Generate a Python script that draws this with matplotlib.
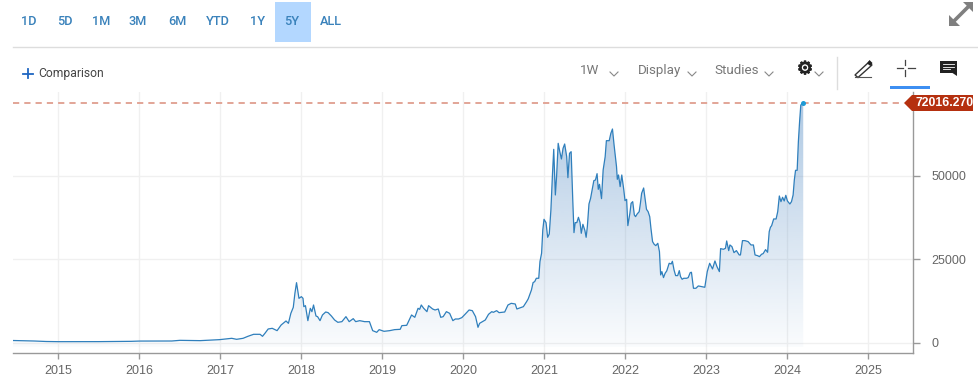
import numpy as np
import matplotlib
matplotlib.use("Agg")
import matplotlib.pyplot as plt
import matplotlib.patheffects as pe
from matplotlib.patches import Polygon, Rectangle, PathPatch
from matplotlib.path import Path
from matplotlib.colors import LinearSegmentedColormap, to_rgba

# ---------- data ----------
dates = [2014.44,2014.7,2014.85,2015.0,2015.5,2015.9,2016.0,2016.4,2016.5,2016.68,
 2016.75,2016.91,2016.99,2017.14,2017.20,2017.28,2017.34,2017.41,2017.49,2017.52,2017.55,2017.59,2017.64,2017.70,2017.75,2017.81,2017.84,2017.87,2017.90,2017.92,2017.94,2017.97,2018.0,2018.02,2018.03,2018.05,2018.08,2018.11,2018.13,2018.15,2018.18,2018.20,2018.23,2018.26,2018.30,2018.33,2018.37,2018.41,2018.45,2018.50,2018.55,2018.59,2018.64,2018.67,2018.72,2018.78,2018.84,2018.88,2018.93,2018.96,2019.02,2019.09,2019.15,2019.22,2019.24,2019.30,2019.36,2019.40,2019.44,2019.46,2019.48,2019.51,2019.55,2019.57,2019.62,2019.65,2019.69,2019.72,2019.75,2019.79,2019.83,2019.87,2019.90,2019.94,2019.98,2020.02,2020.07,2020.11,2020.15,2020.18,2020.20,2020.27,2020.31,2020.35,2020.37,2020.41,2020.44,2020.51,2020.55,2020.59,2020.64,2020.66,2020.74,2020.78,
 2020.80,2020.84,2020.86,2020.88,2020.90,2020.93,2020.945,2020.965,2020.98,2020.995,2021.02,2021.04,2021.06,2021.08,2021.10,2021.115,2021.135,2021.15,2021.17,2021.19,2021.21,2021.23,2021.25,2021.275,2021.29,2021.31,2021.33,2021.35,2021.365,2021.38,2021.40,2021.42,2021.44,2021.455,2021.475,2021.50,2021.515,2021.53,2021.55,2021.57,2021.61,2021.63,2021.65,2021.665,2021.68,2021.705,2021.725,2021.75,2021.765,2021.80,2021.82,2021.84,2021.86,2021.89,2021.90,2021.915,2021.935,2021.955,2021.98,2021.995,2022.015,2022.03,2022.055,2022.07,2022.09,2022.11,2022.125,2022.145,2022.17,2022.185,2022.20,2022.225,2022.245,2022.26,2022.28,2022.30,2022.315,2022.335,2022.355,2022.375,2022.40,2022.42,2022.435,2022.45,2022.47,2022.49,2022.51,2022.54,2022.565,2022.58,2022.60,2022.62,2022.645,2022.665,2022.68,2022.70,2022.72,2022.755,2022.775,2022.80,2022.815,2022.84,2022.87,2022.90,
 2022.94,2022.98,2023.01,2023.04,2023.075,2023.105,2023.13,2023.16,2023.175,2023.21,2023.235,2023.25,2023.275,2023.29,2023.315,2023.34,2023.37,2023.405,2023.42,2023.445,2023.475,2023.515,2023.55,2023.58,2023.60,2023.63,2023.655,2023.68,2023.70,2023.73,2023.755,2023.775,2023.79,2023.805,2023.83,2023.86,2023.88,2023.90,2023.92,2023.94,2023.96,2023.98,2024.00,2024.03,2024.05,2024.07,2024.085,2024.10,2024.12,2024.135,2024.15,2024.165,2024.195]
prices = [600,450,300,250,260,350,430,450,650,600,
 557,757,857,1257,957,1257,1857,2457,2457,1857,2757,4057,4257,3557,5257,6457,5757,8757,10557,14757,17957,13257,13757,13257,10757,11057,6557,10257,9257,11257,7957,7757,6557,8257,9157,8957,7957,6757,6057,6257,7757,6257,7157,6257,6557,6257,6257,3557,3057,3857,3357,3557,3857,3957,5057,5157,8257,7557,10257,9957,11257,10257,9257,11057,10057,9757,10057,7557,7757,9257,8757,6557,7057,7057,7457,8457,9757,9557,7757,4557,5757,6757,8457,9257,9057,9557,8957,9157,11257,11757,11557,10057,10757,12257,
 13100,15775,17975,18275,19275,19275,24275,26775,33775,36975,35975,31575,32575,39775,50775,57975,44275,49775,59775,57275,55075,58275,59575,55775,49475,56775,57275,42775,32975,35975,35975,37575,35975,32775,35475,33575,31575,34775,41575,43275,48575,48775,50675,45975,47475,43175,51775,55775,60575,60575,62775,64075,59275,52775,48975,50275,46775,50275,45775,42575,42975,35075,38775,41775,42275,38275,37775,38575,39275,41775,44775,46375,42775,39975,39275,37775,34275,30275,29475,29075,29775,27275,20275,21275,19475,20775,21475,23775,23575,24375,21775,20075,20075,21575,19775,18975,19275,19275,19475,20975,21075,16275,16275,16975,
 16775,16575,21275,23775,22075,24475,22775,21275,28175,27975,28275,30475,27575,29275,28775,26975,27575,26275,26275,30575,30575,30275,29275,29275,26275,26075,25775,26475,26675,27875,27075,33275,34575,35075,37075,37075,39275,43975,42275,43575,42475,44175,42475,41575,42275,44275,48775,51675,51675,60275,66275,71275,72016]
x_ticks = [2015,2016,2017,2018,2019,2020,2021,2022,2023,2024,2025]
y_ticks = [0,25000,50000]
last_price = 72016.270
ranges = ["1D","5D","1M","3M","6M","YTD","1Y","5Y","ALL"]
range_x = [29,65,101,138,177,218,258,292,331]
menus = [("1W",590),("Display",659.5),("Studies",736.5)]
chevrons = [614,692,769,819]

W, H = 979, 389
fig = plt.figure(figsize=(W/100, H/100), dpi=100, facecolor="white")
L, R, T, B = 13, 913, 92, 352.5
ax = fig.add_axes([L/W, 1-B/H, (R-L)/W, (B-T)/H])

line_c = "#2f7fbc"
ax.set_axisbelow(True)
ax.grid(True, color="#f0f0f0", lw=1)
xs, ys = np.array(dates), np.array(prices, float)

xlim = (2014.44, 2025.55)
ylim = (-3001, 75180)
# gradient fill beneath the line
cmap = LinearSegmentedColormap.from_list("f", [to_rgba("#5f93c8", 0.03), to_rgba("#5f93c8", 0.5)])
grad = np.linspace(1, 0, 256).reshape(-1, 1)
im = ax.imshow(grad, extent=(xlim[0], xlim[1], -1500, 72016), aspect="auto", cmap=cmap,
               vmin=0, vmax=1, origin="upper", zorder=1.5, interpolation="bilinear")
verts = np.vstack([[xs[0], -1500], np.column_stack([xs, ys]), [xs[-1], -1500], [xs[0], -1500]])
clip = PathPatch(Path(verts), transform=ax.transData, fc="none", ec="none")
ax.add_patch(clip)
im.set_clip_path(clip)

ax.plot(xs, ys, color=line_c, lw=0.9, zorder=3, solid_joinstyle="round")
ax.axhline(last_price, color="#e2a597", lw=1.4, dashes=(3.2, 2.6), zorder=2.5, xmax=0.99)
ax.plot([xs[-1]], [last_price], marker="o", ms=3.6, color="#1d9ad6", mec="none", zorder=4)

ax.set_xlim(*xlim)
ax.set_ylim(*ylim)
ax.set_xticks(x_ticks)
ax.set_yticks(y_ticks)
ax.yaxis.tick_right()
for s in ("top", "left"):
    ax.spines[s].set_visible(False)
for s in ("bottom", "right"):
    ax.spines[s].set_color("#999999")
    ax.spines[s].set_linewidth(1)
ax.tick_params(axis="both", length=4, color="#999999", width=1, labelcolor="#666666", labelsize=9, pad=5)
ax.tick_params(axis="y", pad=8, length=5)
for t in ax.get_xticklabels() + ax.get_yticklabels():
    t.set_family("Liberation Sans")

# ---------- toolbar overlay in pixel units ----------
ui = fig.add_axes([0, 0, 1, 1], facecolor="none")
ui.set_xlim(0, W); ui.set_ylim(H, 0); ui.axis("off")

ui.add_patch(Rectangle((275, 2), 36, 40, fc="#b3d7ff", ec="none"))
ui.plot([13, W], [46.5, 46.5], color="#dddddd", lw=1)
for lab, x in zip(ranges, range_x):
    ui.text(x, 21.5, lab, color="#3a82bb", fontsize=9.2, family="Roboto", fontweight="medium",
            ha="center", va="center")

# comparison
ui.plot([23.5, 33], [73.5, 73.5], color="#1f66c1", lw=1.3)
ui.plot([28.25, 28.25], [68.5, 78], color="#1f66c1", lw=1.3)
ui.text(38.5, 73.5, "Comparison", color="#444444", fontsize=8.7, family="Roboto", ha="left", va="center")

for lab, x in menus:
    ui.text(x, 70.5, lab, color="#777777", fontsize=9.6, family="Roboto", ha="center", va="center")
for x in chevrons:
    ui.plot([x-4, x, x+4], [72, 76, 72], color="#888888", lw=0.8)

ui.text(805, 69, "\u2699", color="#222222", fontsize=13, family="DejaVu Sans", ha="center", va="center",
        path_effects=[pe.withStroke(linewidth=0.8, foreground="#222222")])
ui.plot([837.5, 837.5], [57, 89], color="#dddddd", lw=1)

# pencil
ui.add_patch(Polygon([[855, 75], [869, 62], [872, 65], [858, 77.5]], closed=True, fc="white", ec="#333333", lw=1))
ui.add_patch(Polygon([[867, 63.5], [869.5, 60], [872.5, 63], [870.5, 66]], closed=True, fc="#222222", ec="none"))
ui.plot([855, 871], [76.5, 76.5], color="#555555", lw=0.8)

# crosshair
ui.plot([897, 903], [67.5, 67.5], color="#444444", lw=0.9)
ui.plot([908, 915], [67.5, 67.5], color="#444444", lw=0.9)
ui.plot([905.5, 905.5], [60, 65], color="#444444", lw=0.9)
ui.plot([905.5, 905.5], [70, 76], color="#444444", lw=0.9)
ui.add_patch(Rectangle((890, 86), 40, 3, fc="#3d8ff2", ec="none"))

# comment
ui.add_patch(Polygon([[940, 61], [957, 61], [957, 72.5], [940, 72.5]], closed=True, fc="#222222", ec="none"))
ui.add_patch(Polygon([[951, 72], [957, 72], [957, 76]], closed=True, fc="#222222", ec="none"))
for yy, x2 in ((64, 954), (66.5, 954), (69, 950)):
    ui.plot([943, x2], [yy, yy], color="white", lw=0.6)

# expand arrows
ex = "#7f7f7f"
ui.plot([955, 968], [20, 7], color=ex, lw=2.6)
ui.add_patch(Polygon([[949, 26], [949, 15], [960, 26]], closed=True, fc=ex, ec="none"))
ui.add_patch(Polygon([[973, 2], [973, 12], [963, 2]], closed=True, fc=ex, ec="none"))

# last price flag
ui.add_patch(Polygon([[904, 103], [912, 95], [973, 95], [973, 111], [912, 111]], closed=True, fc="#b5300f", ec="none"))
ui.text(916, 103.3, f"{last_price:.3f}", color="white", fontsize=8.8, fontweight="bold",
        family="Liberation Sans", ha="left", va="center")

fig.savefig("out.png", dpi=100, facecolor="white")
